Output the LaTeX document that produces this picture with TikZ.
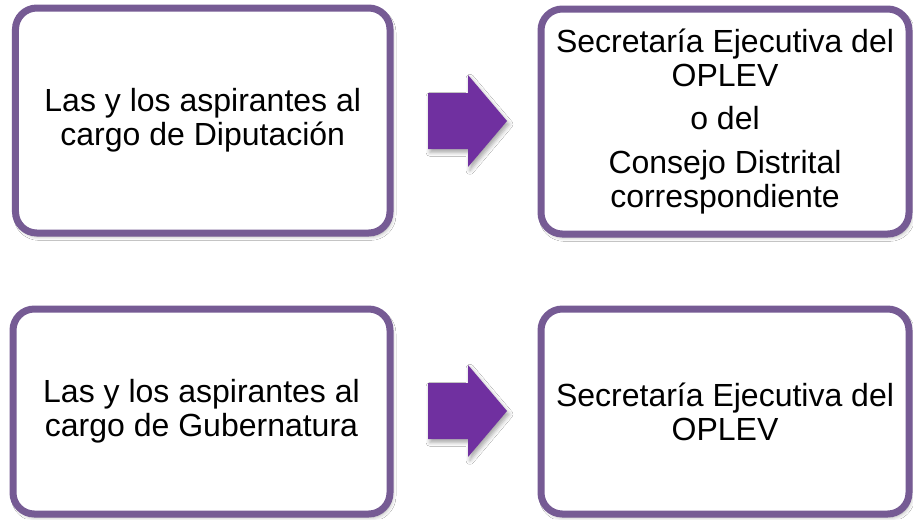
\documentclass[tikz,border=0pt]{standalone}
\usepackage{fontspec}
\setmainfont{Liberation Sans}
\usetikzlibrary{shadows.blur}
\definecolor{boxborder}{HTML}{765B94}
\definecolor{arrowfill}{HTML}{7030A0}
\begin{document}
\begin{tikzpicture}[x=0.75pt,y=-0.75pt,
  softshadow/.style={blur shadow={shadow xshift=1.5pt, shadow yshift=-2.5pt, shadow blur radius=3pt, shadow opacity=35}},
  box/.style={draw=boxborder, line width=5.25pt, fill=white, rounded corners=16pt,
    align=center, font=\fontsize{24}{25.5}\selectfont, inner sep=0pt, softshadow},
  blockarrow/.style={fill=arrowfill, softshadow}]
\useasboundingbox (0,0) rectangle (913,519);
\fill[white] (0,0) rectangle (913,519);
% top row
\node[box, minimum width=280.9pt, minimum height=168.75pt] (d1) at (202.75,120.5)
  {Las y los aspirantes al\\cargo de Diputación};
\node[box, minimum width=276pt, minimum height=168.75pt] (d2) at (725,121.5)
  {Secretaría Ejecutiva del\\OPLEV\\[7pt]o del\\[7pt]Consejo Distrital\\correspondiente};
% bottom row
\node[box, minimum width=282.75pt, minimum height=153.75pt] (g1) at (201.5,411.5)
  {Las y los aspirantes al\\cargo de Gubernatura};
\node[box, minimum width=276pt, minimum height=153.75pt] (g2) at (725,411.5)
  {Secretaría Ejecutiva del\\OPLEV};
% block arrows
\fill[blockarrow] (428,93) -- (468,93) -- (468,75) -- (507,121) -- (468,167) -- (468,149) -- (428,149) -- cycle;
\fill[blockarrow] (428,383) -- (468,383) -- (468,365) -- (507,411) -- (468,457) -- (468,439) -- (428,439) -- cycle;
\end{tikzpicture}
\end{document}
